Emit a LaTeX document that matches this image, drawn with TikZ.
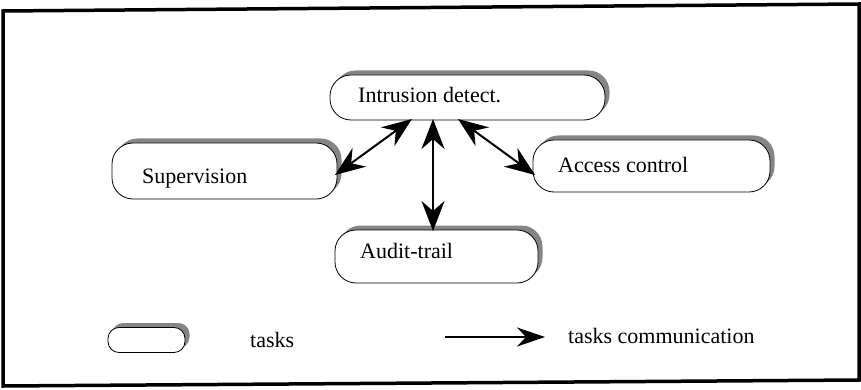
\documentclass[tikz,border=0pt]{standalone}
\usepackage{fontspec}
\setmainfont{Liberation Serif}
\usetikzlibrary{arrows.meta,shadows}
\begin{document}
\begin{tikzpicture}[x=1pt,y=-1pt,
  task/.style={draw, line width=0.8pt, fill=white, rectangle, rounded corners=21pt,
    drop shadow={shadow xshift=4.5pt, shadow yshift=4.5pt, fill=black!48, opacity=1}},
  lbl/.style={anchor=base west, inner sep=0pt, font=\fontsize{22}{26}\selectfont},
  comm/.style={line width=2pt, {Stealth[length=30pt,width=23pt,inset=10pt]}-{Stealth[length=30pt,width=23pt,inset=10pt]}},
  onecomm/.style={line width=1.2pt, -{Stealth[length=28pt,width=19pt,inset=9pt]}}]
\useasboundingbox (0,0) rectangle (861,390);
% outer frame
\draw[line width=3.5pt] (3,11) -- (859,4) -- (859,380) -- (3,386) -- cycle;

% task boxes
\node[task, minimum width=275pt, minimum height=45pt] (intr) at (467.5,97.5) {};
\node[task, minimum width=225pt, minimum height=56pt] (sup) at (224.5,171) {};
\node[task, minimum width=237pt, minimum height=52pt] (acc) at (651.5,166) {};
\node[task, minimum width=203pt, minimum height=53pt] (aud) at (436.5,256.5) {};

\node[lbl] (intr-t) at (358,103) {Intrusion detect.};
\node[lbl] (sup-t) at (142,183) {Supervision};
\node[lbl] (acc-t) at (558,172) {Access control};
\node[lbl] (aud-t) at (360,258) {Audit-trail};

% communications between tasks
\coordinate (i1) at (412,119);
\coordinate (i2) at (433,119);
\coordinate (i3) at (458,119);
\coordinate (s1) at (335,175);
\coordinate (a1) at (433,231);
\coordinate (c1) at (535,175);
\draw[comm] (i1) -- (s1);
\draw[comm] (i2) -- (a1);
\draw[comm] (i3) -- (c1);

% legend
\node[task, minimum width=77pt, minimum height=25pt, rounded corners=11pt,
  drop shadow={shadow xshift=4pt, shadow yshift=4pt, fill=black!48, opacity=1}] (leg) at (146.5,340) {};
\node[lbl] (leg-t) at (250,347) {tasks};
\coordinate (la) at (445,337);
\coordinate (lb) at (545,337);
\draw[onecomm] (la) -- (lb);
\node[lbl] (leg-c) at (568,343) {tasks communication};
\end{tikzpicture}
\end{document}
